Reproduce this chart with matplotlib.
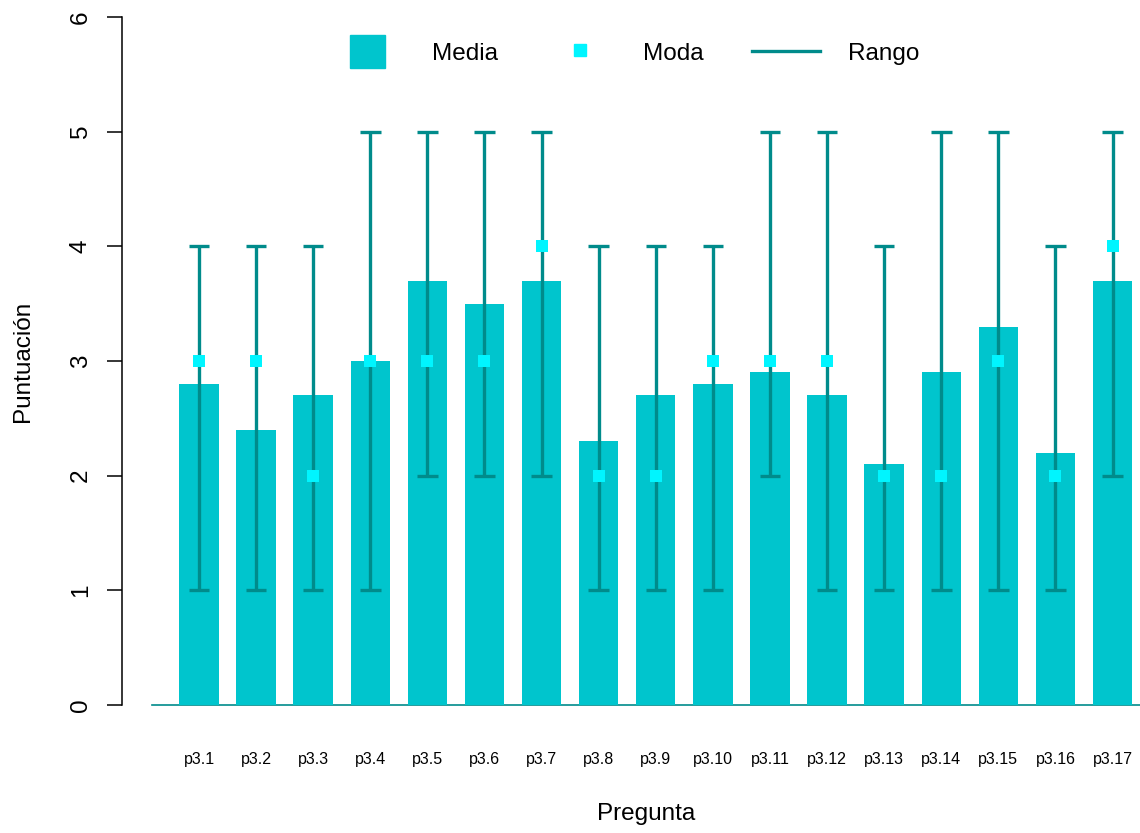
import matplotlib
matplotlib.use("Agg")
from matplotlib import pyplot as plt
from matplotlib.patches import Rectangle
from matplotlib.lines import Line2D
from matplotlib.legend_handler import HandlerPatch

plt.rcParams['font.family'] = ['Liberation Sans', 'DejaVu Sans']

preguntas = ["p3.1", "p3.2", "p3.3", "p3.4", "p3.5", "p3.6", "p3.7", "p3.8", "p3.9",
             "p3.10", "p3.11", "p3.12", "p3.13", "p3.14", "p3.15", "p3.16", "p3.17"]
media = [2.8, 2.4, 2.7, 3.0, 3.7, 3.5, 3.7, 2.3, 2.7, 2.8, 2.9, 2.7, 2.1, 2.9, 3.3, 2.2, 3.7]
moda = [3, 3, 2, 3, 3, 3, 4, 2, 2, 3, 3, 3, 2, 2, 3, 2, 4]
rango_min = [1, 1, 1, 1, 2, 2, 2, 1, 1, 1, 2, 1, 1, 1, 1, 1, 2]
rango_max = [4, 4, 4, 5, 5, 5, 5, 4, 4, 4, 5, 5, 4, 5, 5, 4, 5]

BAR = "#00C5CD"
MODA = "#00F5FF"
RANGO = "#008B8B"
FS = 17.5

fig = plt.figure(figsize=(11.4, 8.33), dpi=100)
ax = fig.add_axes([152 / 1140, 128 / 833, 988 / 1140, 688 / 833])

x = list(range(1, len(preguntas) + 1))
ax.bar(x, media, width=0.69, color=BAR, zorder=1)
ax.vlines(x, rango_min, rango_max, color=RANGO, lw=2.4, zorder=2)
ax.hlines(rango_min, [i - 0.18 for i in x], [i + 0.18 for i in x], color=RANGO, lw=2.4, zorder=2)
ax.hlines(rango_max, [i - 0.18 for i in x], [i + 0.18 for i in x], color=RANGO, lw=2.4, zorder=2)
ax.plot(x, moda, ls="none", marker="s", ms=8, color=MODA, mew=0, zorder=3)
ax.axhline(0, color=RANGO, lw=1.2, zorder=0, clip_on=False)

ax.set_xlim(0.177, 17.48)
ax.set_ylim(0, 6)
for s in ["top", "right", "bottom"]:
    ax.spines[s].set_visible(False)
ax.spines["left"].set_position(("outward", 21.6))
ax.spines["left"].set_linewidth(1.1)
ax.set_yticks(range(7))
ax.tick_params(axis="y", length=10.8, width=1.1, labelsize=FS, pad=11, labelrotation=90)
for t in ax.get_yticklabels():
    t.set_va("center")
ax.set_xticks(x)
ax.set_xticklabels(preguntas)
ax.tick_params(axis="x", length=0, labelsize=11.5, pad=34)

ax.set_xlabel("Pregunta", fontsize=FS)
ax.xaxis.set_label_coords(0.5, -0.142)
ax.set_ylabel("Puntuación", fontsize=FS)
ax.yaxis.set_label_coords(-0.119, 0.5)


# legend boxes, sizes in points
def media_box(legend, orig_handle, xdescent, ydescent, width, height, fontsize):
    w, h = 25.2, 23.8
    return Rectangle((-xdescent + 10.1, -ydescent + height / 2 - h / 2), w, h)


def moda_box(legend, orig_handle, xdescent, ydescent, width, height, fontsize):
    s = 8.6
    return Rectangle((-xdescent + 19.4, -ydescent + height / 2 - s / 2 + 1), s, s)


h_media = Rectangle((0, 0), 1, 1, color=BAR)
h_moda = Rectangle((0, 0), 1, 1, color=MODA)
h_rango = Line2D([], [], color=RANGO, lw=2.4)
fig.legend([h_media, h_moda, h_rango], ["Media", "Moda", "Rango"],
           loc="center left", bbox_to_anchor=(336 / 1140, 780 / 833), ncol=3,
           frameon=False, fontsize=FS, borderpad=0, borderaxespad=0,
           handlelength=2.8, handleheight=1.0, handletextpad=1.15, columnspacing=2.0,
           handler_map={h_media: HandlerPatch(patch_func=media_box),
                        h_moda: HandlerPatch(patch_func=moda_box)})

fig.savefig("out.png", dpi=100)
